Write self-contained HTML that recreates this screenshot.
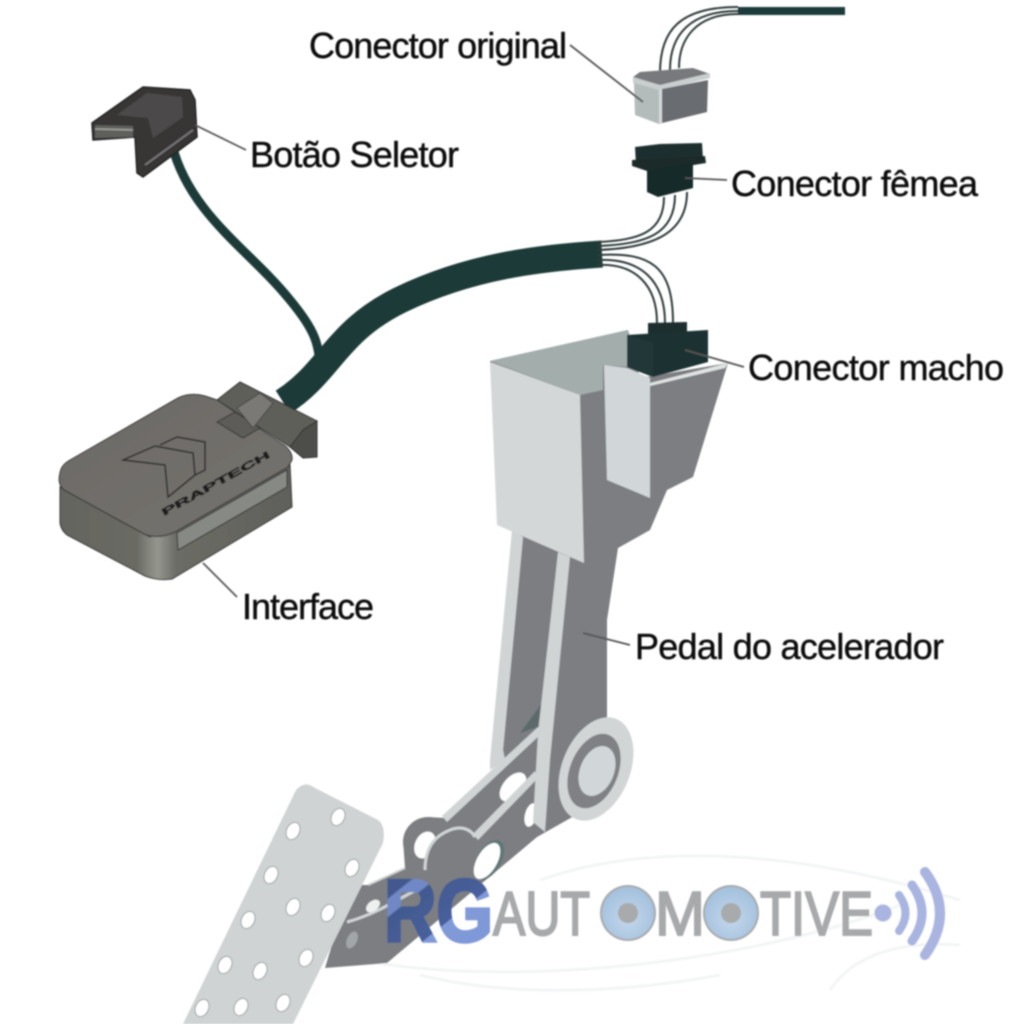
<!DOCTYPE html>
<html><head><meta charset="utf-8"><style>html,body{margin:0;padding:0;background:#fff}svg{display:block}</style></head><body>
<svg width="1024" height="1024" viewBox="0 0 1024 1024" xmlns="http://www.w3.org/2000/svg" font-family="'Liberation Sans',sans-serif">
<defs>
<filter id="b" x="-5%" y="-5%" width="110%" height="110%"><feGaussianBlur stdDeviation="0.7"/></filter>
<radialGradient id="sp" cx="50%" cy="60%" r="55%"><stop offset="0" stop-color="#c4d7ec"/><stop offset="1" stop-color="#a5c2de"/></radialGradient>
<linearGradient id="rg" gradientUnits="userSpaceOnUse" x1="399" y1="845" x2="511" y2="985"><stop offset="0" stop-color="#42598f"/><stop offset="0.19" stop-color="#42598f"/><stop offset="0.2" stop-color="#7089c6"/><stop offset="0.27" stop-color="#7089c6"/><stop offset="0.28" stop-color="#42598f"/><stop offset="0.5" stop-color="#475f9c"/><stop offset="0.505" stop-color="#8099d8"/><stop offset="1" stop-color="#7c95d4"/></linearGradient>
<linearGradient id="top" x1="0" y1="0" x2="1" y2="1"><stop offset="0" stop-color="#6b6966"/><stop offset="1" stop-color="#75726e"/></linearGradient>
<linearGradient id="side" x1="0" y1="0" x2="1" y2="0"><stop offset="0" stop-color="#64645e"/><stop offset=".33" stop-color="#6a6a64"/><stop offset=".42" stop-color="#96968f"/><stop offset=".5" stop-color="#6c6c66"/><stop offset="1" stop-color="#5f5f5a"/></linearGradient>
</defs>
<g filter="url(#b)">
<!-- faint swooshes -->
<g fill="none" stroke="#f3f5f6" stroke-width="3">
<path d="M540,880 C640,845 780,845 960,900"/><path d="M360,960 C520,990 760,960 900,905"/><path d="M420,975 C520,1000 640,990 720,975"/><path d="M830,990 C850,960 890,940 960,945"/>
</g>
<!-- selector cable -->
<path d="M172,145 C190,215 250,250 290,300 C315,330 320,345 320,372" fill="none" stroke="#1d3a39" stroke-width="9"/>
<!-- main cable -->
<path d="M283,402 C330,372 335,332 400,300 C470,266 540,258 602,254" fill="none" stroke="#1d3a39" stroke-width="27"/>
<!-- wires -->
<g fill="none" stroke="#2e3a3a" stroke-width="2">
<path d="M664,197 C664,232 640,240 598,242"/><path d="M675,195 C675,235 645,244 598,246"/><path d="M687,192 C687,235 650,248 598,250"/>
<path d="M598,255 C650,252 673,265 673,323"/><path d="M598,260 C640,258 665,280 665,323"/><path d="M598,265 C635,263 657,285 657,323"/>
<path d="M660,73 C660,30 680,7 738,7"/><path d="M670,70 C670,35 690,11 738,11"/><path d="M679,68 C679,40 695,14 738,14"/>
</g>
<rect x="738" y="7" width="107" height="8" fill="#1f3a3a"/>
<!-- original connector -->
<polygon points="640,72 693,68 710,74 660,86 633,77" fill="#77797b"/>
<polygon points="633,77 660,85 710,73 710,78 660,91 633,83" fill="#c9cece"/>
<polygon points="634,83 659,90 659,124 635,115" fill="#b3bbbb"/>
<polygon points="659,90 662,90 662,124 659,124" fill="#d5d9d9"/>
<polygon points="662,89 708,80 707,112 662,123" fill="#696c6f"/>
<!-- female connector -->
<polygon points="635,147 660,144 702,143 703,160 636,165" fill="#1c2f2f"/>
<polygon points="632,160 705,156 706,163 650,172 632,166" fill="#1a2c2c"/>
<polygon points="647,170 693,163 693,188 658,197 647,192" fill="#172a2a"/>
<!-- pedal upper -->
<path d="M490,361 L628,330 L640,378 L728,363 L693,477 L667,490 L650,530 L618,548 L607,620 L607,717 L620,790 L537,837 L387,963 L325,968 L350,885 L368,885 L405,868 L403,840 L428,817 L445,818 L505,760 L503,750 L523,537 L512,530 Z" fill="#7c7e82"/>
<polygon points="490,361 628,330 628,367 603,365 603,390 580,395" fill="#a3adac"/>
<polygon points="490,362 580,395 584,563 497,525" fill="#d4d7d8"/>
<polygon points="604,365 627,368 650,378 650,498 607,480" fill="#d1d7d9"/>
<polygon points="650,383 728,363 725,368 650,386" fill="#dfe3e3"/>
<!-- arm inner -->
<polygon points="523,537 558,552 538,727 503,750" fill="#7c7e82"/>
<polygon points="542,703 520,733 538,727" fill="#5d6a6c"/>
<!-- holes -->
<ellipse cx="513" cy="787" rx="10" ry="17" transform="rotate(40 513 787)" fill="#fff"/>
<ellipse cx="531" cy="815" rx="6" ry="12" transform="rotate(15 531 815)" fill="#fff"/>
<!-- arm strips -->
<polygon points="512,530 523,537 503,750 505,760 490,770 490,760" fill="#d0d4d5"/>
<polygon points="558,552 570,557 550,760 545,832 533,822 538,733" fill="#d0d4d5"/>
<!-- link plate -->
<polygon points="538,727 541,734 447,822 442,816" fill="#d0d4d5"/>
<polygon points="535,771 538,778 478,840 473,834" fill="#d0d4d5"/>
<circle cx="428" cy="842" r="25" fill="#7c7e82"/>
<ellipse cx="425" cy="845" rx="10" ry="14" transform="rotate(25 425 845)" fill="#fff"/>
<circle cx="455" cy="858" r="28" fill="#7c7e82"/>
<path d="M425,870 C425,845 437,835 450,830 C460,826 470,828 475,837" fill="none" stroke="#d0d4d5" stroke-width="3"/>
<ellipse cx="489" cy="860" rx="12" ry="22" transform="rotate(30 489 860)" fill="#5f7777"/>
<ellipse cx="487" cy="861" rx="10" ry="20" transform="rotate(30 487 861)" fill="#fff"/>
<!-- lower plate detail -->
<path d="M347,922 C373,915 392,903 425,885" fill="none" stroke="#d0d4d5" stroke-width="3"/>
<ellipse cx="373" cy="906" rx="5" ry="8" transform="rotate(50 373 906)" fill="#eef0f0"/>
<ellipse cx="352" cy="940" rx="5" ry="9" transform="rotate(25 352 940)" fill="#a3a6a8"/>
<path d="M368,885 L405,868" stroke="#d0d4d5" stroke-width="2" fill="none"/>
<!-- wheel -->
<ellipse cx="596" cy="769" rx="34" ry="54" transform="rotate(22 596 769)" fill="#d1d5d6"/>
<ellipse cx="594" cy="771" rx="24" ry="39" transform="rotate(22 594 771)" fill="#7f8184"/>
<ellipse cx="597" cy="771" rx="17" ry="26" transform="rotate(22 597 771)" fill="#d1d7d8"/>
<!-- macho connector -->
<polygon points="648,323 687,322 687,332 648,335" fill="#1b2f2f"/>
<polygon points="627,335 708,330 708,362 653,377 627,367" fill="#1c3030"/>
<polygon points="627,335 653,343 653,377 627,367" fill="#223838"/>
<!-- pedal plate -->
<path d="M296,790 Q305,780 315,788 L378,820 Q386,826 383,843 L293,1024 L183,1024 Z" fill="#cfd3d3"/>
<g fill="#fff" stroke="#9aa0a1" stroke-width="1">
<ellipse cx="338" cy="817" rx="6.5" ry="9" transform="rotate(25 338 817)"/>
<ellipse cx="293" cy="831" rx="6.5" ry="9" transform="rotate(25 293 831)"/>
<ellipse cx="352" cy="868" rx="6.5" ry="9" transform="rotate(25 352 868)"/>
<ellipse cx="271" cy="875" rx="6.5" ry="9" transform="rotate(25 271 875)"/>
<ellipse cx="293" cy="907" rx="6.5" ry="9" transform="rotate(25 293 907)"/>
<ellipse cx="328" cy="913" rx="6.5" ry="9" transform="rotate(25 328 913)"/>
<ellipse cx="248" cy="920" rx="6.5" ry="9" transform="rotate(25 248 920)"/>
<ellipse cx="306" cy="958" rx="6.5" ry="9" transform="rotate(25 306 958)"/>
<ellipse cx="225" cy="965" rx="6.5" ry="9" transform="rotate(25 225 965)"/>
<ellipse cx="260" cy="971" rx="6.5" ry="9" transform="rotate(25 260 971)"/>
<ellipse cx="283" cy="1003" rx="6.5" ry="9" transform="rotate(25 283 1003)"/>
<ellipse cx="241" cy="1007" rx="6.5" ry="9" transform="rotate(25 241 1007)"/>
<ellipse cx="202" cy="1008" rx="6.5" ry="9" transform="rotate(25 202 1008)"/>
</g>
<!-- selector button -->
<polygon points="92,123 143,87 190,90 195,100 197,137 143,177 137,173 135,137 93,140" fill="#383636" stroke="#222" stroke-width="1.5"/>
<polygon points="117,115 147,93 182,97 183,117 153,138 148,118" fill="#4c4848"/>
<polygon points="95,125 133,126 133,137 95,138" fill="#5e5e5c"/>
<polyline points="95,129 133,130" fill="none" stroke="#a5a5a3" stroke-width="1.5"/>
<polyline points="145,165 193,130" fill="none" stroke="#77777a" stroke-width="2"/>
<!-- interface -->
<polygon points="217,400 240,382 317,421 303,430 290,447" fill="#5f5e5a" stroke="#2e2e2c" stroke-width="1"/>
<polygon points="290,447 303,430 317,421 317,457 303,458" fill="#4e4e4a" stroke="#2e2e2c" stroke-width="1"/>
<path d="M60,487 L60,523 Q61,530 67,535 L145,576 Q158,581 172,579 L292,507 L290,465 L200,500 L150,537 Z" fill="url(#side)" stroke="#333" stroke-width="1"/>
<path d="M60,473 Q61,465 70,460 L178,398 Q190,392 205,396 L217,400 L284,445 Q293,452 292,460 L288,467 L175,532 Q160,539 146,535 L64,490 Q57,484 60,473 Z" fill="url(#top)" stroke="#333" stroke-width="1"/>
<polygon points="177,533 287,470 287,487 178,550" fill="#878985" stroke="#333" stroke-width="1"/>
<polygon points="217,422 235,412 260,428 243,438" fill="#5d5c58" stroke="#333" stroke-width="1"/>
<polygon points="237,408 260,393 273,403 253,428" fill="#7a7974" stroke="#444" stroke-width="1"/>
<path d="M123,460 L155,446 L193,453 L195,475 L168,497 L165,465 Z" fill="none" stroke="#2a2a28" stroke-width="1.5"/>
<path d="M160,445 L177,437 L205,442 L205,470 L195,475" fill="none" stroke="#2a2a28" stroke-width="1.5"/>
<text x="0" y="0" font-size="10" font-weight="bold" fill="#1d1d1d" stroke="#1d1d1d" stroke-width=".5" transform="translate(164,516) rotate(-29)" textLength="122" lengthAdjust="spacingAndGlyphs">PRAPTECH</text>
<!-- leader lines -->
<g stroke="#555" stroke-width="1.8" fill="none">
<line x1="570" y1="45" x2="643" y2="102"/><line x1="195" y1="125" x2="246" y2="150"/><line x1="203" y1="563" x2="237" y2="597"/><line x1="685" y1="178" x2="727" y2="180"/><line x1="685" y1="350" x2="744" y2="367"/><line x1="583" y1="633" x2="630" y2="645"/>
</g>
<!-- labels -->
<g font-size="36" fill="#111" stroke="#111" stroke-width=".45">
<text x="309" y="58" textLength="258" lengthAdjust="spacing">Conector original</text>
<text x="250" y="167" textLength="209" lengthAdjust="spacing">Botão Seletor</text>
<text x="731" y="196" textLength="247" lengthAdjust="spacing">Conector fêmea</text>
<text x="748" y="380" textLength="256" lengthAdjust="spacing">Conector macho</text>
<text x="242" y="619" textLength="132" lengthAdjust="spacing">Interface</text>
<text x="635" y="659" textLength="309" lengthAdjust="spacing">Pedal do acelerador</text>
</g>
<!-- watermark -->
<g fill="#a7a9ab" stroke="#a7a9ab" stroke-width="2" font-size="62">
<text x="493" y="935" textLength="97" lengthAdjust="spacingAndGlyphs">AUT</text>
<text x="603" y="935" textLength="50" lengthAdjust="spacingAndGlyphs">O</text>
<text x="655" y="935" textLength="50" lengthAdjust="spacingAndGlyphs">M</text>
<text x="706" y="935" textLength="50" lengthAdjust="spacingAndGlyphs">O</text>
<text x="760" y="935" textLength="113" lengthAdjust="spacingAndGlyphs">TIVE</text>
</g>
<g>
<circle cx="628" cy="913" r="28" fill="#a8aaac"/><circle cx="628" cy="913" r="26" fill="url(#sp)"/><circle cx="628" cy="913" r="10" fill="#a8aaac"/>
<circle cx="731" cy="913" r="28" fill="#a8aaac"/><circle cx="731" cy="913" r="26" fill="url(#sp)"/><circle cx="731" cy="913" r="10" fill="#a8aaac"/>
</g>
<text x="384" y="941" font-size="88" font-weight="bold" fill="url(#rg)" stroke="url(#rg)" stroke-width="3.5" textLength="109" lengthAdjust="spacingAndGlyphs">RG</text>
<circle cx="883" cy="913" r="8.5" fill="#a9b5e0"/>
<g fill="none" stroke="#a9b5e0" stroke-linecap="round">
<path d="M899,895 Q912,913 899,931" stroke-width="8"/>
<path d="M912,885 Q932,913 912,941" stroke-width="9"/>
<path d="M925,872 Q955,913 925,955" stroke-width="10"/>
</g>
</g>
</svg>
</body></html>
